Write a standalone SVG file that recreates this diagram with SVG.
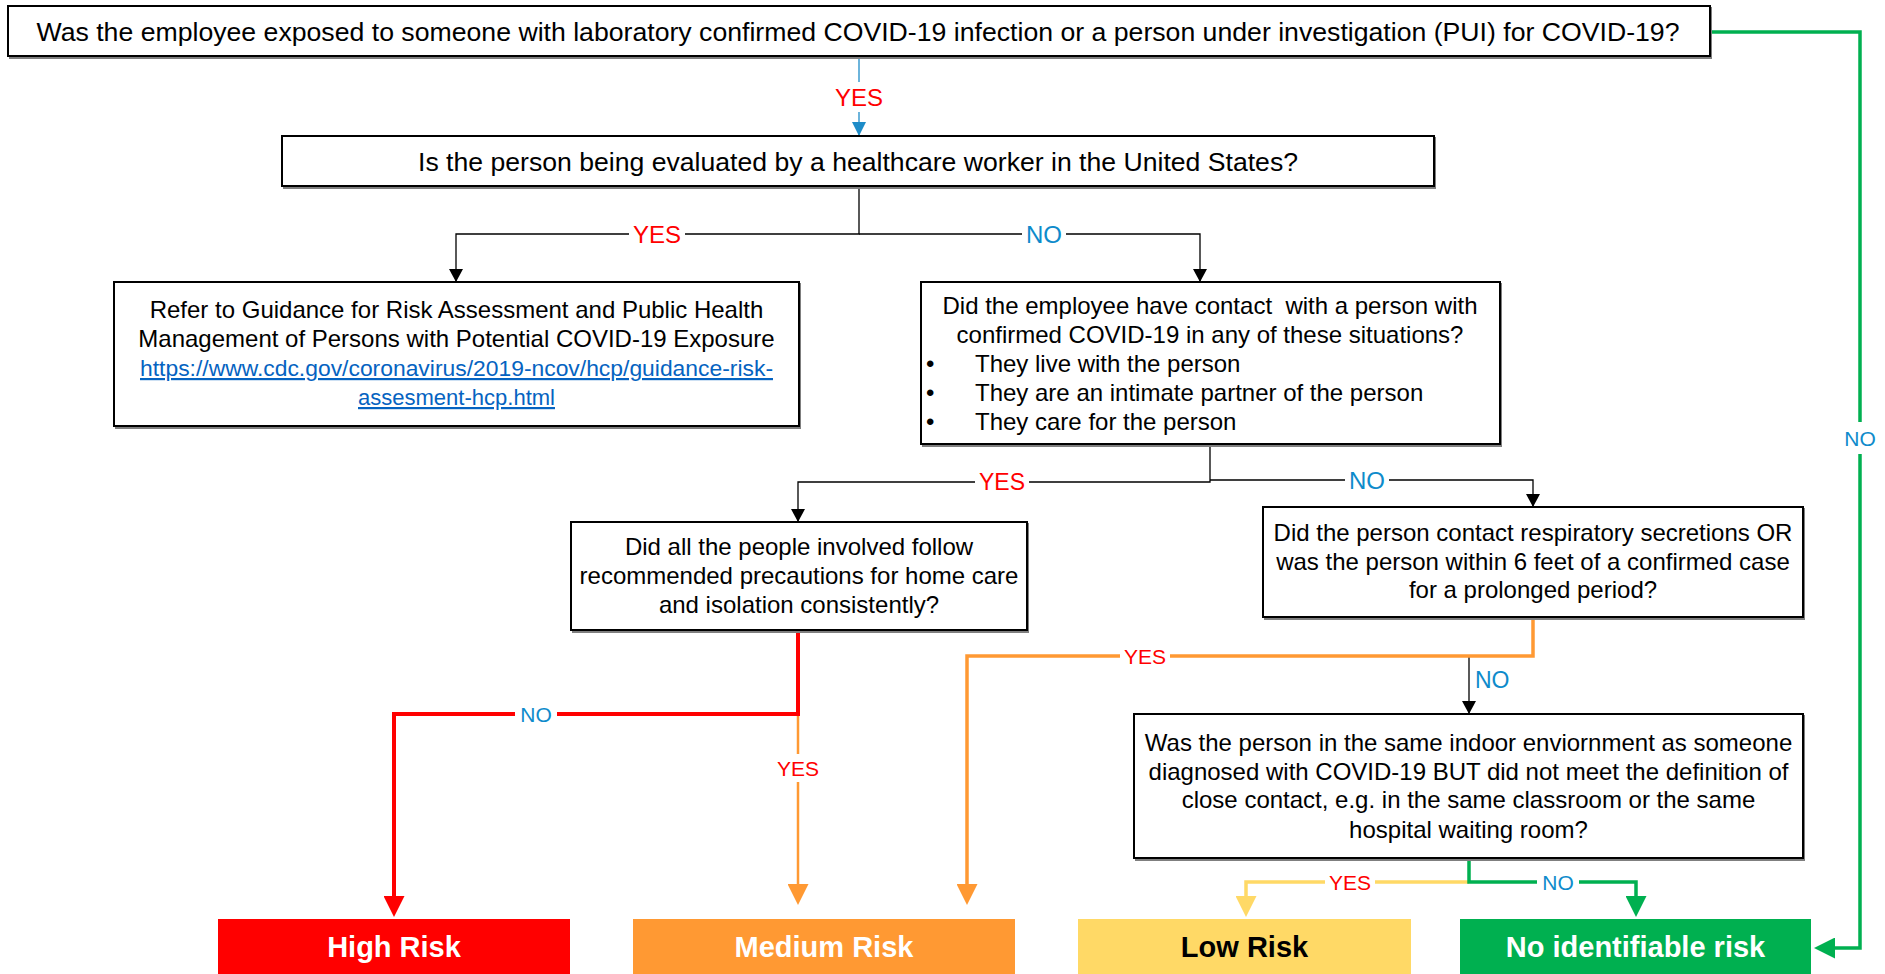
<svg xmlns="http://www.w3.org/2000/svg" width="1885" height="974" viewBox="0 0 1885 974">
<style>
  .t { font-family: "Liberation Sans", Arial, sans-serif; font-size: 24px; fill: #000; }
  .big { font-size: 26.6px; }
  .c { text-anchor: middle; }
  .box { fill: #fff; stroke: #000; stroke-width: 2; }
  .sh { fill: none; stroke: #7f7f7f; stroke-width: 2; }
  .url { font-family: "Liberation Sans", Arial, sans-serif; font-size: 22px; fill: #0563C1; text-decoration: underline; text-anchor: middle; }
  .risk { font-family: "Liberation Sans", Arial, sans-serif; font-size: 29px; font-weight: bold; text-anchor: middle; }
  .lb { fill: #fff; }
  .yes { font-family: "Liberation Sans", Arial, sans-serif; fill: #FF0000; text-anchor: middle; }
  .no { font-family: "Liberation Sans", Arial, sans-serif; fill: #0E8BCB; text-anchor: middle; }
  .s24 { font-size: 24px; }
  .s23 { font-size: 23px; }
  .s21 { font-size: 21px; }
  .k { fill: none; stroke: #000; stroke-width: 1.3; }
  .b { fill: none; stroke: #1E8CC8; stroke-width: 1.3; }
  .r { fill: none; stroke: #FF0000; stroke-width: 4; }
  .o { fill: none; stroke: #FF9933; stroke-width: 3.5; }
  .o2 { fill: none; stroke: #FF9933; stroke-width: 2.5; }
  .y { fill: none; stroke: #FFD966; stroke-width: 3.5; }
  .g { fill: none; stroke: #00B050; stroke-width: 3.5; }
</style>
<defs>
  <marker id="aK" markerUnits="userSpaceOnUse" markerWidth="14" markerHeight="14" refX="13" refY="7" orient="auto"><path d="M0,0 L13,7 L0,14 z" fill="#000"/></marker>
  <marker id="aB" markerUnits="userSpaceOnUse" markerWidth="14" markerHeight="14" refX="14" refY="7" orient="auto"><path d="M0,0 L14,7 L0,14 z" fill="#1E8CC8"/></marker>
  <marker id="aR" markerUnits="userSpaceOnUse" markerWidth="21" markerHeight="21" refX="3" refY="10.5" orient="auto"><path d="M0,0 L21,10.5 L0,21 z" fill="#FF0000"/></marker>
  <marker id="aO" markerUnits="userSpaceOnUse" markerWidth="21" markerHeight="21" refX="3" refY="10.5" orient="auto"><path d="M0,0 L21,10.5 L0,21 z" fill="#FF9933"/></marker>
  <marker id="aY" markerUnits="userSpaceOnUse" markerWidth="21" markerHeight="21" refX="3" refY="10.5" orient="auto"><path d="M0,0 L21,10.5 L0,21 z" fill="#FFD966"/></marker>
  <marker id="aG" markerUnits="userSpaceOnUse" markerWidth="21" markerHeight="21" refX="3" refY="10.5" orient="auto"><path d="M0,0 L21,10.5 L0,21 z" fill="#00B050"/></marker>
</defs>
<rect width="1885" height="974" fill="#fff"/>

<g id="connectors">
  <path class="b" d="M859,57 V136" marker-end="url(#aB)"/>
  <path class="k" d="M859,187 V234 H456 V282" marker-end="url(#aK)"/>
  <path class="k" d="M859,234 H1200 V282" marker-end="url(#aK)"/>
  <path class="k" d="M1210,444 V482 H798 V522" marker-end="url(#aK)"/>
  <path class="k" d="M1210,480 H1533 V507" marker-end="url(#aK)"/>
  <path class="o2" d="M798,714 V887" marker-end="url(#aO)"/>
  <path class="r" d="M798,631 V714 H394 V899" marker-end="url(#aR)"/>
  <path class="k" d="M1469,656 V714" marker-end="url(#aK)"/>
  <path class="o" d="M1533,617 V656 H967 V887" marker-end="url(#aO)"/>
  <path class="y" d="M1469,882 H1246 V899" marker-end="url(#aY)"/>
  <path class="g" d="M1469,858 V882 H1636 V899" marker-end="url(#aG)"/>
  <path class="g" d="M1710,32 H1860 V948 H1832" marker-end="url(#aG)"/>

  <g><rect class="lb" x="833" y="82" width="52" height="30"/><text class="yes s24" x="859" y="105.5">YES</text></g>
  <g><rect class="lb" x="629" y="223" width="56" height="22"/><text class="yes s24" x="657" y="242.5">YES</text></g>
  <g><rect class="lb" x="1022" y="223" width="44" height="22"/><text class="no s24" x="1044" y="242.5">NO</text></g>
  <g><rect class="lb" x="975" y="471" width="54" height="22"/><text class="yes s23" x="1002" y="490">YES</text></g>
  <g><rect class="lb" x="1345" y="469" width="44" height="22"/><text class="no s24" x="1367" y="488.5">NO</text></g>
  <g><rect class="lb" x="1843" y="422" width="34" height="32"/><text class="no s21" x="1860" y="445.5">NO</text></g>
  <g><rect class="lb" x="515" y="702" width="42" height="24"/><text class="no s21" x="536" y="721.5">NO</text></g>
  <g><rect class="lb" x="775" y="754" width="46" height="28"/><text class="yes s21" x="798" y="775.5">YES</text></g>
  <g><rect class="lb" x="1120" y="644" width="50" height="24"/><text class="yes s21" x="1145" y="663.5">YES</text></g>
  <text class="no s23" x="1475" y="688" style="text-anchor:start">NO</text>
  <g><rect class="lb" x="1325" y="870" width="50" height="24"/><text class="yes s21" x="1350" y="889.5">YES</text></g>
  <g><rect class="lb" x="1537" y="870" width="42" height="24"/><text class="no s21" x="1558" y="889.5">NO</text></g>
</g>

<g id="q1">
  <path class="sh" d="M9,58 H1711 V7"/>
  <rect class="box" x="8" y="6" width="1702" height="50"/>
  <text class="t big c" x="858" y="41" textLength="1643" lengthAdjust="spacingAndGlyphs">Was the employee exposed to someone with laboratory confirmed COVID-19 infection or a person under investigation (PUI) for COVID-19?</text>
</g>

<g id="q2">
  <path class="sh" d="M283,188 H1435 V137"/>
  <rect class="box" x="282" y="136" width="1152" height="50"/>
  <text class="t big c" x="858" y="171" textLength="880" lengthAdjust="spacingAndGlyphs">Is the person being evaluated by a healthcare worker in the United States?</text>
</g>

<g id="refer">
  <path class="sh" d="M115,428 H800 V283"/>
  <rect class="box" x="114" y="282" width="685" height="144"/>
  <text class="t c" x="456.5" y="318">Refer to Guidance for Risk Assessment and Public Health</text>
  <text class="t c" x="456.5" y="347">Management of Persons with Potential COVID-19 Exposure</text>
  <text class="url" x="456.5" y="376" textLength="633" lengthAdjust="spacingAndGlyphs">https://www.cdc.gov/coronavirus/2019-ncov/hcp/guidance-risk-</text>
  <text class="url" x="456.5" y="405" textLength="197" lengthAdjust="spacingAndGlyphs">assesment-hcp.html</text>
</g>

<g id="q3">
  <path class="sh" d="M922,446 H1501 V283"/>
  <rect class="box" x="921" y="282" width="579" height="162"/>
  <text class="t c" x="1210" y="314" xml:space="preserve">Did the employee have contact  with a person with</text>
  <text class="t c" x="1210" y="343">confirmed COVID-19 in any of these situations?</text>
  <text class="t" x="926" y="372">•</text>
  <text class="t" x="975" y="372">They live with the person</text>
  <text class="t" x="926" y="401">•</text>
  <text class="t" x="975" y="401">They are an intimate partner of the person</text>
  <text class="t" x="926" y="430">•</text>
  <text class="t" x="975" y="430">They care for the person</text>
</g>

<g id="q4">
  <path class="sh" d="M572,632 H1028 V523"/>
  <rect class="box" x="571" y="522" width="456" height="108"/>
  <text class="t c" x="799" y="555">Did all the people involved follow</text>
  <text class="t c" x="799" y="584">recommended precautions for home care</text>
  <text class="t c" x="799" y="613">and isolation consistently?</text>
</g>

<g id="q5">
  <path class="sh" d="M1264,619 H1804 V508"/>
  <rect class="box" x="1263" y="507" width="540" height="110"/>
  <text class="t c" x="1533" y="541">Did the person contact respiratory secretions OR</text>
  <text class="t c" x="1533" y="570">was the person within 6 feet of a confirmed case</text>
  <text class="t c" x="1533" y="598">for a prolonged period?</text>
</g>

<g id="q6">
  <path class="sh" d="M1135,860 H1804 V715"/>
  <rect class="box" x="1134" y="714" width="669" height="144"/>
  <text class="t c" x="1468.5" y="751">Was the person in the same indoor enviornment as someone</text>
  <text class="t c" x="1468.5" y="780">diagnosed with COVID-19 BUT did not meet the definition of</text>
  <text class="t c" x="1468.5" y="808">close contact, e.g. in the same classroom or the same</text>
  <text class="t c" x="1468.5" y="838">hospital waiting room?</text>
</g>

<g id="high">
  <rect x="218" y="919" width="352" height="62" fill="#FF0000"/>
  <text class="risk" x="394" y="957" fill="#fff">High Risk</text>
</g>
<g id="medium">
  <rect x="633" y="919" width="382" height="62" fill="#FF9933"/>
  <text class="risk" x="824" y="957" fill="#fff">Medium Risk</text>
</g>
<g id="low">
  <rect x="1078" y="919" width="333" height="62" fill="#FFD966"/>
  <text class="risk" x="1244.5" y="957" fill="#000">Low Risk</text>
</g>
<g id="none">
  <rect x="1460" y="919" width="351" height="62" fill="#00B050"/>
  <text class="risk" x="1635.5" y="957" fill="#fff">No identifiable risk</text>
</g>
</svg>
